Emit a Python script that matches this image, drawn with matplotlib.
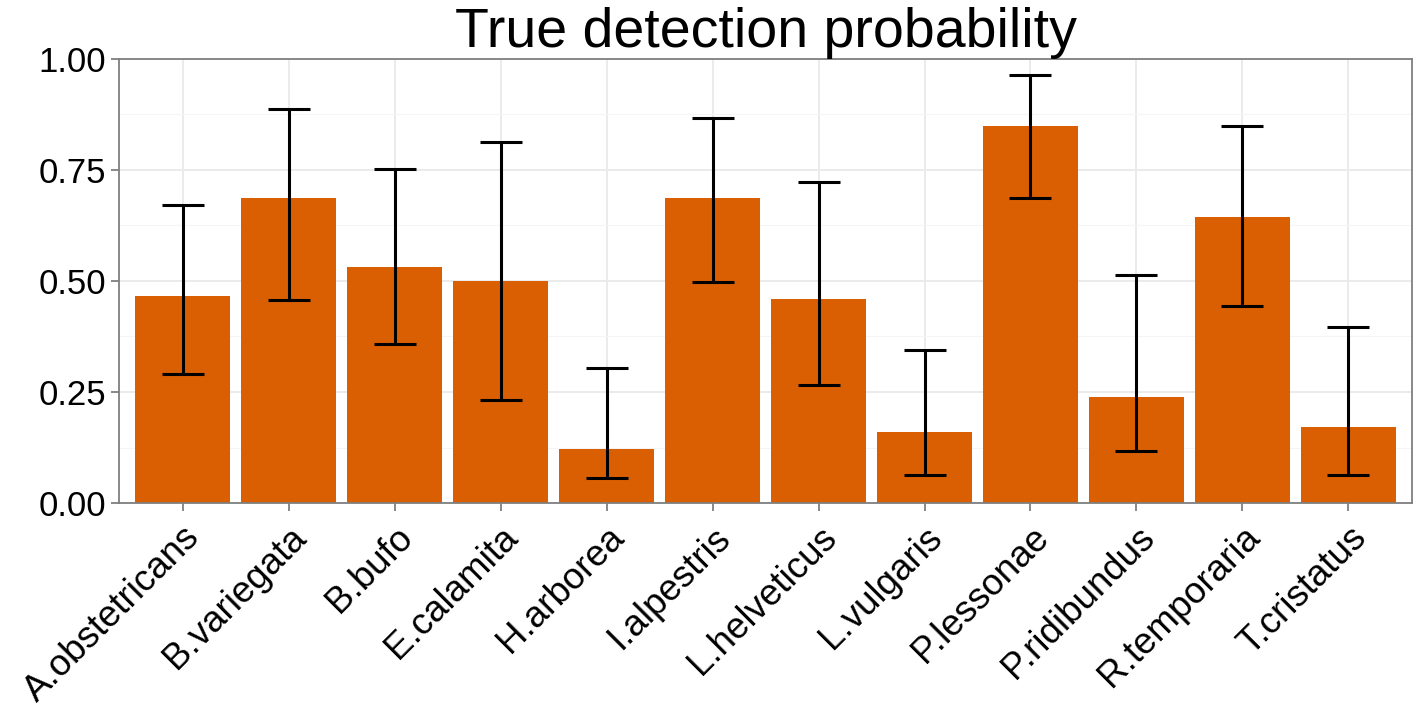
import matplotlib
matplotlib.use("Agg")
import matplotlib.pyplot as plt
from matplotlib.ticker import MultipleLocator

species = ["A.obstetricans", "B.variegata", "B.bufo", "E.calamita", "H.arborea",
           "I.alpestris", "L.helveticus", "L.vulgaris", "P.lessonae", "P.ridibundus",
           "R.temporaria", "T.cristatus"]
mean = [0.466, 0.688, 0.532, 0.500, 0.122, 0.686, 0.459, 0.161, 0.848, 0.238, 0.645, 0.172]
lower = [0.290, 0.457, 0.357, 0.233, 0.057, 0.498, 0.265, 0.063, 0.686, 0.118, 0.443, 0.063]
upper = [0.672, 0.887, 0.753, 0.814, 0.303, 0.867, 0.724, 0.344, 0.964, 0.514, 0.848, 0.396]

plt.rcParams['font.family'] = ['Liberation Sans', 'DejaVu Sans']

fig = plt.figure(figsize=(14.22, 7.19), dpi=100)
ax = fig.add_axes([0.0837, 0.3004, 0.9093, 0.6176])

x = list(range(len(species)))
ax.bar(x, mean, width=0.9, color="#D95F02", zorder=2)
err = [[m - l for m, l in zip(mean, lower)], [u - m for m, u in zip(mean, upper)]]
ax.errorbar(x, mean, yerr=err, fmt="none", ecolor="black", elinewidth=2.2,
            capsize=15, capthick=2.2, zorder=3)

ax.set_xlim(-0.6, len(species) - 0.4)
ax.set_ylim(0, 1)
ax.yaxis.set_minor_locator(MultipleLocator(0.125))
ax.set_yticks([0, 0.25, 0.5, 0.75, 1.0])
ax.set_yticklabels(["0.00", "0.25", "0.50", "0.75", "1.00"])
ax.set_xticks(x)
ax.set_xticklabels(species, rotation=45, ha="right", rotation_mode="anchor")

ax.grid(which="major", color="#EBEBEB", linewidth=1.4, zorder=0)
ax.grid(which="minor", axis="y", color="#F5F5F5", linewidth=0.8, zorder=0)
ax.set_axisbelow(True)
for s in ax.spines.values():
    s.set_color("#7F7F7F")
    s.set_linewidth(1.3)
ax.tick_params(which="major", colors="#7F7F7F", length=6, width=1.3,
               labelsize=25, labelcolor="black")
ax.tick_params(which="minor", length=0)
ax.tick_params(axis="x", pad=6, labelsize=26.5)

ax.set_title("True detection probability", fontsize=40, pad=3)

fig.savefig("out.png", dpi=100)
